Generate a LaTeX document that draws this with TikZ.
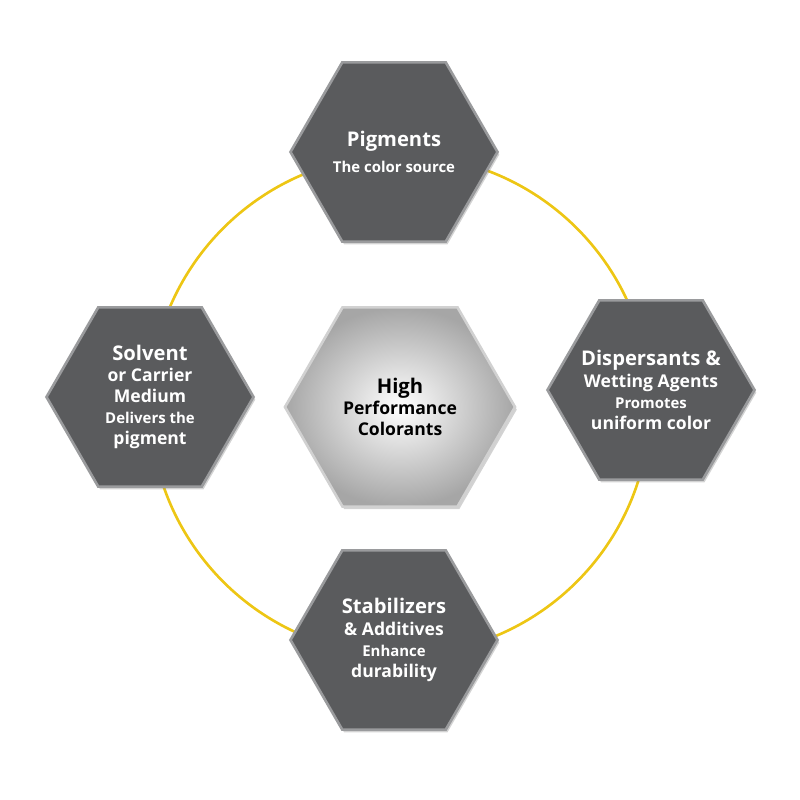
\documentclass[tikz,border=0pt]{standalone}
\usepackage{fontspec}
\setmainfont{Open Sans}
\usetikzlibrary{shapes.geometric,shadows}
\definecolor{hexgray}{HTML}{5A5B5D}
\definecolor{hexedge}{HTML}{9A9B9D}
\definecolor{ringyellow}{HTML}{EDC614}
\newcommand{\hexhead}{\fontsize{11.5}{14}\selectfont}
\newcommand{\hexsub}{\fontsize{8.5}{10.2}\selectfont}
\tikzset{
  hexbox/.style={regular polygon, regular polygon sides=6, minimum size=4.14cm,
    inner sep=0pt, fill=hexgray, draw=hexedge, line width=1.5pt,
    drop shadow={opacity=0.35, shadow xshift=1pt, shadow yshift=-1.5pt}},
  hexcore/.style={hexbox, minimum size=4.6cm, inner color=white, outer color=black!35,
    draw=black!18},
  hextext/.style={align=center, font=\bfseries, text=white, inner sep=0pt},
  coretext/.style={hextext, text=black}
}
\begin{document}
\begin{tikzpicture}[line width=1pt]
  \useasboundingbox (0,0) rectangle (16,16);
  % ring
  \draw[ringyellow, line width=1.5pt] (8,7.9) circle (5.0);

  \node[hexcore] (core) at (8,7.86) {};
  \node[coretext] (core-t) at (core) {\hexhead High\\Performance\\Colorants};

  \node[hexbox] (pigm) at (7.88,12.96) {};
  \node[hextext] (pigm-t) at (pigm) {\hexhead Pigments\\[3pt]\hexsub The color source};
  \node[hexbox] (solv) at (3.0,8.06) {};
  \node[hextext] (solv-t) at (solv) {\hexhead Solvent\\or Carrier\\Medium\\\hexsub Delivers the\\pigment};
  \node[hexbox] (disp) at (13.02,8.2) {};
  \node[hextext] (disp-t) at (disp) {\hexhead Dispersants \&\\Wetting Agents\\\hexsub Promotes\\uniform color};
  \node[hexbox] (stab) at (7.88,3.2) {};
  \node[hextext] (stab-t) at (stab) {\hexhead Stabilizers\\\& Additives\\\hexsub Enhance\\durability};
\end{tikzpicture}
\end{document}
